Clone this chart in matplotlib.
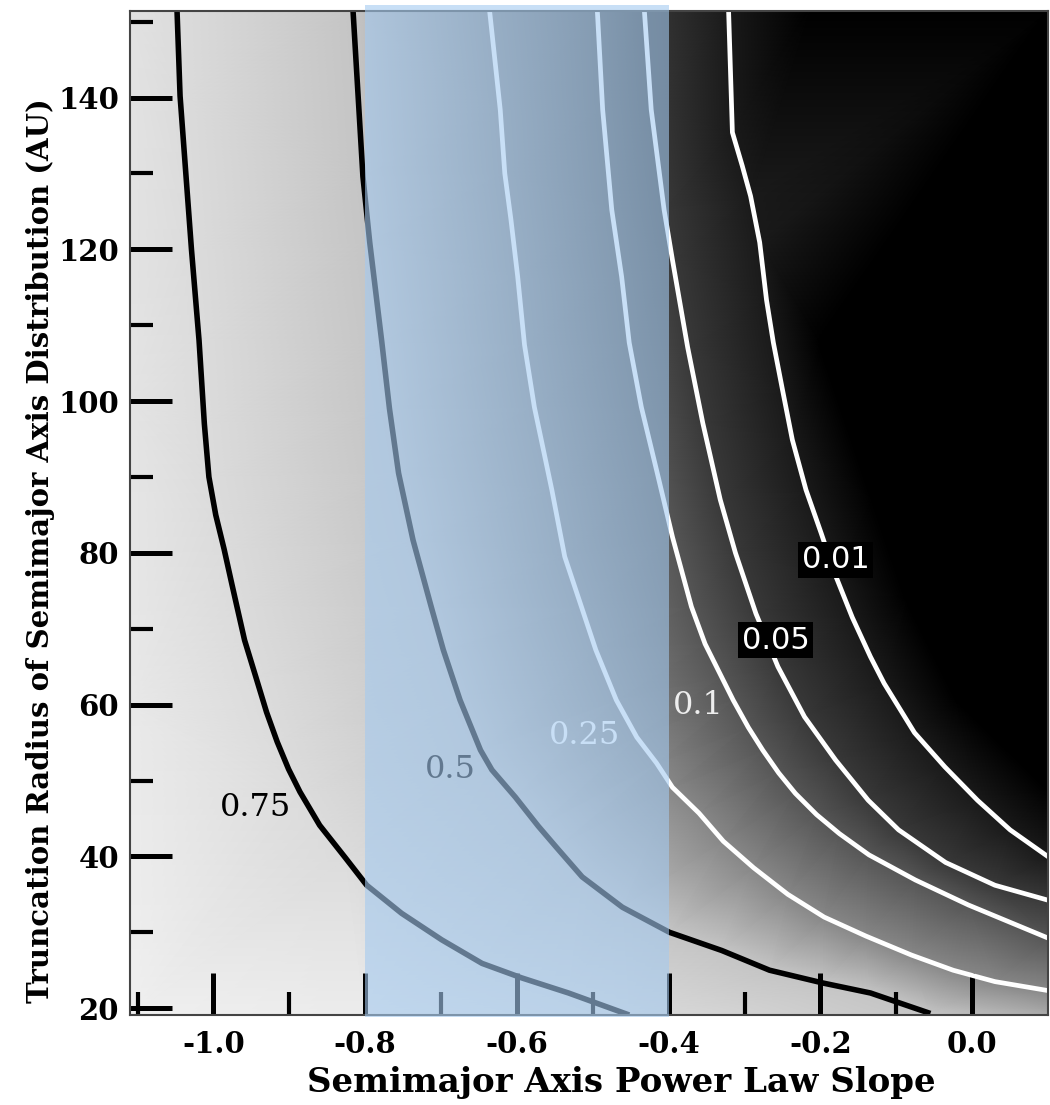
import numpy as np
import matplotlib
matplotlib.use("Agg")
import matplotlib.pyplot as plt
import matplotlib.tri as mtri
from matplotlib.colors import LinearSegmentedColormap
from matplotlib.patches import Rectangle
from matplotlib.transforms import blended_transform_factory

# ---------------- data ----------------
levels = [0.75, 0.5, 0.25, 0.1, 0.05, 0.01]

c075_x = [-1.048, -1.044, -1.029, -1.019, -1.012, -1.006, -0.997, -0.986, -0.976, -0.969, -0.959,
          -0.944, -0.930, -0.916, -0.901, -0.886, -0.860, -0.826, -0.798, -0.752, -0.699,
          -0.646, -0.594, -0.532, -0.452]
c075_y = [151.4, 140.2, 120.0, 108.0, 97.0, 90.0, 85.0, 80.5, 76.0, 72.9, 68.5,
          63.6, 59.0, 55.1, 51.5, 48.5, 44.1, 39.8, 36.2, 32.5, 29.0,
          25.9, 24.0, 22.0, 19.1]

c050_x = [-0.816, -0.803, -0.794, -0.778, -0.768, -0.756, -0.737, -0.713, -0.697, -0.675,
          -0.648, -0.633, -0.602, -0.572, -0.548, -0.514, -0.461, -0.399, -0.330, -0.267,
          -0.196, -0.134, -0.055]
c050_y = [151.4, 129.6, 120.9, 107.7, 99.0, 90.5, 81.7, 72.9, 67.2, 60.6,
          54.0, 51.4, 47.8, 44.0, 41.2, 37.3, 33.3, 30.0, 27.6, 25.0,
          23.3, 22.0, 19.3]

c025_x = [-0.636, -0.622, -0.616, -0.608, -0.599, -0.590, -0.577, -0.554, -0.537, -0.515,
          -0.496, -0.469, -0.442, -0.416, -0.395, -0.360, -0.328, -0.288, -0.243, -0.195,
          -0.140, -0.080, -0.025, 0.030, 0.101]
c025_y = [151.4, 138.4, 130.0, 124.0, 116.4, 107.4, 99.2, 88.3, 79.5, 72.9,
          67.2, 60.6, 55.7, 52.3, 49.1, 45.7, 42.0, 38.5, 35.0, 32.0,
          29.5, 27.0, 25.0, 23.5, 22.3]

c010_x = [-0.494, -0.487, -0.475, -0.462, -0.452, -0.436, -0.415, -0.395, -0.370, -0.352,
          -0.330, -0.315, -0.295, -0.276, -0.255, -0.233, -0.205, -0.175, -0.136, -0.075,
          -0.005, 0.101]
c010_y = [151.4, 138.4, 125.2, 116.4, 107.7, 99.2, 90.5, 82.1, 72.9, 68.0,
          63.6, 60.6, 57.0, 54.0, 51.0, 48.3, 45.5, 43.0, 40.2, 36.9,
          33.6, 29.2]

c005_x = [-0.432, -0.423, -0.406, -0.395, -0.375, -0.355, -0.332, -0.312, -0.285, -0.256,
          -0.221, -0.180, -0.137, -0.097, -0.035, 0.030, 0.101]
c005_y = [151.4, 138.4, 125.2, 118.6, 107.1, 97.1, 87.0, 80.0, 72.0, 65.0,
          58.4, 52.7, 47.4, 43.5, 39.2, 36.2, 34.2]

c001_x = [-0.321, -0.316, -0.303, -0.292, -0.280, -0.271, -0.262, -0.250, -0.237, -0.219,
          -0.199, -0.180, -0.158, -0.134, -0.116, -0.076, -0.036, 0.007, 0.050, 0.101]
c001_y = [151.4, 135.4, 131.0, 127.0, 120.9, 113.3, 107.7, 101.5, 94.9, 88.3,
          82.6, 77.0, 71.5, 66.3, 62.8, 56.3, 51.8, 47.4, 43.5, 39.9]

# where the map turns black (value ~0)
zero_x = [-0.215, -0.202, -0.132, -0.087, -0.021, 0.101]
zero_y = [151.4, 107.7, 87.0, 73.8, 60.6, 48.7]

# values read along the frame of the map
edge_x = [-1.11, -1.11, -1.11, -1.11, -0.80, 0.101, 0.101, 0.101]
edge_y = [151.4, 100.0, 60.0, 19.1, 19.1, 19.1, 100.0, 151.4]
edge_v = [0.81, 0.83, 0.87, 0.93, 0.90, 0.40, 0.0, 0.0]

# contour labels
label_text = ["0.75", "0.5", "0.25", "0.1", "0.05", "0.01"]
label_x = [-0.945, -0.688, -0.511, -0.361, -0.259, -0.180]
label_y = [46.4, 51.5, 55.9, 59.9, 68.5, 79.1]

# shaded slope band
band_x0, band_x1 = -0.8, -0.4

x_major = [-1.0, -0.8, -0.6, -0.4, -0.2, 0.0]
x_major_labels = ["-1.0", "-0.8", "-0.6", "-0.4", "-0.2", "0.0"]
x_minor = [-1.1, -0.9, -0.7, -0.5, -0.3, -0.1]
y_major = [20, 40, 60, 80, 100, 120, 140]
y_major_labels = ["20", "40", "60", "80", "100", "120", "140"]
y_minor = [30, 50, 70, 90, 110, 130, 150]

xlim = (-1.11, 0.10)
ylim = (19.1, 151.4)

# ---------------- styling ----------------
plt.rcParams["font.family"] = ["DejaVu Serif"]
plt.rcParams["axes.unicode_minus"] = False

contours = [(c075_x, c075_y), (c050_x, c050_y), (c025_x, c025_y),
            (c010_x, c010_y), (c005_x, c005_y), (c001_x, c001_y)]
line_colors = ["black", "black", "white", "white", "white", "white"]
line_widths = [4.0, 4.0, 3.4, 3.4, 3.4, 3.4]

gray_stops = [(0.0, 0.0), (0.01, 0.13), (0.05, 0.23), (0.1, 0.34),
              (0.25, 0.53), (0.5, 0.77), (0.75, 0.86), (1.0, 0.97)]
cmap = LinearSegmentedColormap.from_list("frac", [(v, (g, g, g)) for v, g in gray_stops])

fig = plt.figure(figsize=(10.5, 11.05), dpi=100)
ax = fig.add_axes([130 / 1050, 90 / 1105, 918 / 1050, 1004 / 1105])

# background map: triangulated from the read contour lines and frame values
px, py, pv = [], [], []
for (cx, cy), lev in zip(contours, levels):
    px += cx; py += cy; pv += [lev] * len(cx)
px += zero_x; py += zero_y; pv += [0.0] * len(zero_x)
px += edge_x; py += edge_y; pv += edge_v
px = np.array(px); py = np.array(py); pv = np.array(pv)
xn = (px - xlim[0]) / (xlim[1] - xlim[0]) * 918
yn = (py - ylim[0]) / (ylim[1] - ylim[0]) * 1004
tri0 = mtri.Triangulation(xn, yn)
tri = mtri.Triangulation(px, py, tri0.triangles)
ax.tripcolor(tri, pv, shading="gouraud", cmap=cmap, vmin=0, vmax=1, zorder=0)

for (cx, cy), col, lw in zip(contours, line_colors, line_widths):
    ax.plot(cx, cy, color=col, lw=lw, solid_joinstyle="round", solid_capstyle="butt", zorder=2)

label_colors = ["black", "black", "white", "#eeeeee", "white", "white"]
for i, (t, lx, ly) in enumerate(zip(label_text, label_x, label_y)):
    if i >= 4:
        ax.text(lx, ly, t, color=label_colors[i], fontsize=22, family="DejaVu Sans",
                ha="center", va="center", zorder=4,
                bbox=dict(boxstyle="square,pad=0.12", fc="black", ec="none"))
    else:
        ax.text(lx, ly, t, color=label_colors[i], fontsize=23, family="DejaVu Serif",
                ha="center", va="center", zorder=4)

ax.set_xlim(*xlim)
ax.set_ylim(*ylim)
ax.set_xticks(x_major)
ax.set_xticklabels(x_major_labels)
ax.set_xticks(x_minor, minor=True)
ax.set_yticks(y_major)
ax.set_yticklabels(y_major_labels)
ax.set_yticks(y_minor, minor=True)
ax.tick_params(which="major", direction="in", length=30, width=3.6, color="black",
               labelsize=21, top=False, right=False)
ax.tick_params(which="minor", direction="in", length=16.5, width=3.0, color="black",
               top=False, right=False)
ax.tick_params(axis="x", which="major", pad=11)
ax.tick_params(axis="y", which="major", pad=8)
for lab in ax.get_xticklabels() + ax.get_yticklabels():
    lab.set_fontweight("bold")

for s in ax.spines.values():
    s.set_linewidth(1.5)
    s.set_color("#444444")

ax.set_xlabel("Semimajor Axis Power Law Slope", fontsize=24.5, fontweight="bold")
ax.xaxis.set_label_coords(0.535, -0.051)
ax.set_ylabel("Truncation Radius of Semimajor Axis Distribution (AU)", fontsize=21, fontweight="bold")
ax.yaxis.set_label_coords(-0.082, 0.463)

band = Rectangle((band_x0, -0.002), band_x1 - band_x0, 1.008,
                 transform=blended_transform_factory(ax.transData, ax.transAxes),
                 facecolor="#a4caf0", alpha=0.6, edgecolor="none", zorder=3)
fig.add_artist(band)

fig.savefig("out.png", dpi=100)
